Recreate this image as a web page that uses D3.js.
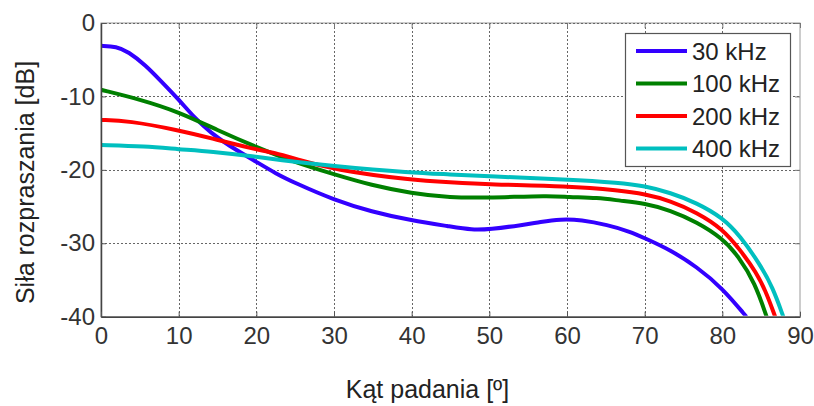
<!DOCTYPE html>
<html>
<head>
<meta charset="utf-8">
<script src="https://cdn.jsdelivr.net/npm/d3@7"></script>
<style>
  html, body { margin: 0; padding: 0; background: #fff; }
  svg { display: block; font-family: "Liberation Sans", Arial, sans-serif; }
</style>
</head>
<body>
<svg id="chart" width="814" height="406"></svg>
<script>
// ---- data ----
const seriesNames = ["30 kHz", "100 kHz", "200 kHz", "400 kHz"];
const seriesColors = ["#3300ff", "#008000", "#ff0000", "#00bfbf"];

const angles30 = [0, 2, 3.5, 5.7, 7.8, 10, 12.1, 14.2, 16.3, 20, 22.5, 25, 30, 34.8, 40, 44.9, 47.8, 50, 54.4, 56.5, 59.2, 61.8, 65.2, 68.1, 70, 73.3, 76.7, 80, 83.1];
const values30 = [-3.1, -3.2, -3.9, -5.7, -8.0, -10.4, -13.0, -15.0, -16.6, -18.9, -20.5, -21.8, -24.1, -25.7, -26.9, -27.7, -28.2, -28.1, -27.5, -27.1, -26.7, -26.8, -27.5, -28.4, -29.3, -30.9, -33.2, -36.1, -40];

const angles100 = [0, 5, 10, 15, 20, 25, 30, 34.8, 40, 44.9, 50, 57.9, 60, 64, 66.8, 70, 73.3, 76.7, 80, 82.1, 84.2, 85.7];
const values100 = [-9.1, -10.4, -12.1, -14.6, -16.9, -19.0, -20.6, -22.1, -23.2, -23.8, -23.8, -23.5, -23.7, -23.8, -24.2, -24.55, -25.5, -27.1, -29.3, -31.8, -35.4, -40];

const angles200 = [0, 3.5, 10, 14.2, 19.4, 22.5, 25, 30, 40, 44.9, 50, 60, 66.8, 70, 73.3, 76.7, 80, 82.3, 84.4, 85.7, 86.8];
const values200 = [-13.2, -13.3, -14.6, -15.7, -17.1, -17.7, -18.5, -20.0, -21.4, -21.7, -22.0, -22.2, -22.8, -23.3, -24.2, -25.8, -28.0, -30.9, -34.0, -36.8, -40];

const angles400 = [0, 5.7, 10, 14.2, 20, 22.5, 30, 40, 44.9, 50, 60, 66.8, 70, 73.3, 76.7, 80, 82.3, 84.8, 86.5, 87.85];
const values400 = [-16.6, -16.8, -17.2, -17.5, -18.2, -18.6, -19.5, -20.4, -20.6, -20.9, -21.3, -21.75, -22.2, -23.1, -24.5, -26.5, -29.0, -32.8, -36.0, -40];

const xTicks = [0, 10, 20, 30, 40, 50, 60, 70, 80, 90];
const yTicks = [0, -10, -20, -30, -40];
const xTitle = "Kąt padania [º]";
const yTitle = "Siła rozpraszania [dB]";

// ---- layout ----
const svg = d3.select("#chart");
const L = 101, R = 800, T = 23, B = 316.7;
const x = d3.scaleLinear().domain([0, 90]).range([L, R]);
const y = d3.scaleLinear().domain([-40, 0]).range([B, T]);

const series = [
  {name: seriesNames[0], color: seriesColors[0], xs: angles30, ys: values30},
  {name: seriesNames[1], color: seriesColors[1], xs: angles100, ys: values100},
  {name: seriesNames[2], color: seriesColors[2], xs: angles200, ys: values200},
  {name: seriesNames[3], color: seriesColors[3], xs: angles400, ys: values400}
];

// plot background + top/right border
svg.append("rect").attr("x", L).attr("y", T).attr("width", R - L).attr("height", B - T)
  .attr("fill", "#fff").attr("stroke", "#9a9a9a").attr("stroke-width", 1);

// grid
const grid = svg.append("g").attr("stroke", "#666").attr("stroke-width", 1)
  .attr("stroke-dasharray", "2,2").attr("fill", "none");
grid.selectAll("line.gx").data(xTicks.filter(d => d > 0 && d < 90)).join("line")
  .attr("x1", d => Math.round(x(d)) + 0.5).attr("x2", d => Math.round(x(d)) + 0.5)
  .attr("y1", T).attr("y2", B);
grid.selectAll("line.gy").data(yTicks.filter(d => d > -40)).join("line")
  .attr("y1", d => Math.round(y(d)) + 0.5).attr("y2", d => Math.round(y(d)) + 0.5)
  .attr("x1", L).attr("x2", R);

// right / top ticks
const rightAx = svg.append("g").attr("transform", `translate(${R},0)`)
  .call(d3.axisRight(y).tickValues(yTicks).tickSize(-5).tickFormat(""));
const topAx = svg.append("g").attr("transform", `translate(0,${T})`)
  .call(d3.axisTop(x).tickValues(xTicks).tickSize(-5).tickFormat(""));
[rightAx, topAx].forEach(g => {
  g.select(".domain").remove();
  g.selectAll("line").attr("stroke", "#777");
});

// lines
svg.append("clipPath").attr("id", "plotclip").append("rect")
  .attr("x", L).attr("y", T - 3).attr("width", R - L).attr("height", B - T + 2);
const line = d3.line().x(d => x(d[0])).y(d => y(d[1])).curve(d3.curveBasis);
const lines = svg.append("g").attr("clip-path", "url(#plotclip)");
series.forEach(s => {
  lines.append("path")
    .datum(s.xs.map((a, i) => [a, s.ys[i]]))
    .attr("fill", "none").attr("stroke", s.color).attr("stroke-width", 4)
    .attr("stroke-linejoin", "round").attr("d", line);
});

// axes
const fmt = d => String(d);
const axLeft = svg.append("g").attr("transform", `translate(${L},0)`)
  .call(d3.axisLeft(y).tickValues(yTicks).tickFormat(fmt).tickSize(-5).tickPadding(6).tickSizeOuter(0));
const axBottom = svg.append("g").attr("transform", `translate(0,${B})`)
  .call(d3.axisBottom(x).tickValues(xTicks).tickFormat(fmt).tickSize(-5).tickPadding(10).tickSizeOuter(0));
[axLeft, axBottom].forEach(g => {
  g.select(".domain").attr("stroke", "#444").attr("stroke-width", 1.5);
  g.selectAll(".tick line").attr("stroke", "#555");
  g.selectAll("text").attr("font-size", 24).attr("fill", "#333")
    .attr("font-family", "'Liberation Sans', Arial, sans-serif");
});

// legend
const lg = svg.append("g");
lg.append("rect").attr("x", 625.5).attr("y", 33.5).attr("width", 165).attr("height", 133)
  .attr("fill", "#fff").attr("stroke", "#555").attr("stroke-width", 1.2);
series.forEach((s, i) => {
  const cy = 51 + i * 32.5;
  lg.append("line").attr("x1", 636).attr("x2", 687).attr("y1", cy).attr("y2", cy)
    .attr("stroke", s.color).attr("stroke-width", 4);
  lg.append("text").attr("x", 692).attr("y", cy).attr("dy", "0.36em")
    .attr("font-size", 24).attr("fill", "#222").text(s.name);
});

// titles
svg.append("text").attr("x", 427.5).attr("y", 398).attr("text-anchor", "middle")
  .attr("font-size", 25).attr("fill", "#222").text(xTitle);
svg.append("text").attr("transform", "translate(34,182.5) rotate(-90)")
  .attr("text-anchor", "middle").attr("font-size", 25).attr("fill", "#222").text(yTitle);
</script>
</body>
</html>
